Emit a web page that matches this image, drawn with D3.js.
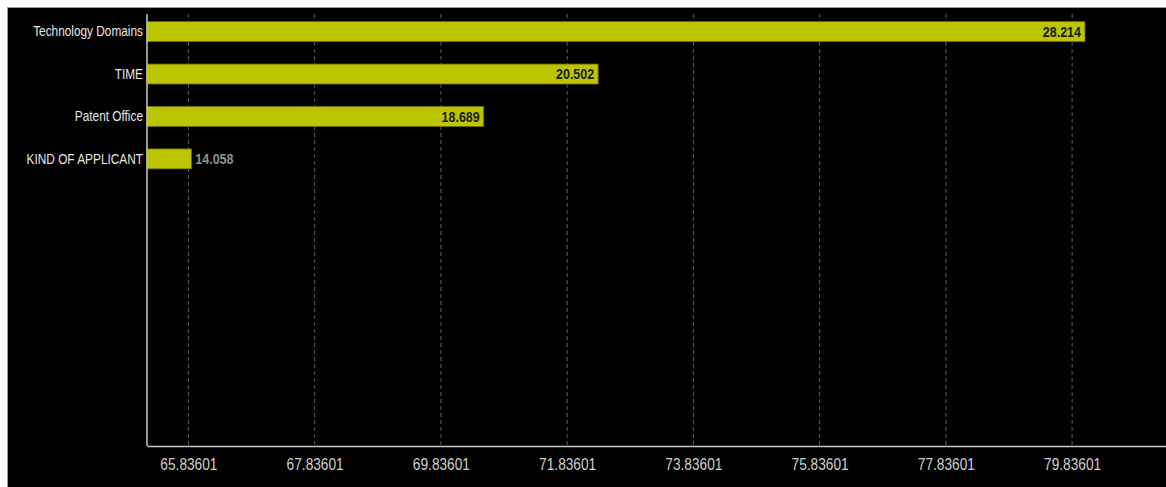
<!DOCTYPE html>
<html>
<head>
<meta charset="utf-8">
<script src="https://cdn.jsdelivr.net/npm/d3@7"></script>
<style>
	html, body { margin: 0; padding: 0; background: #fff; overflow: hidden; }
	#graphic { width: 1166px; height: 487px; }
	text { font-family: "Liberation Sans", Arial, sans-serif; }
</style>
</head>
<body>
<div id="graphic"></div>
<script>
// chart data
const categories = ['Technology Domains', 'TIME', 'Patent Office', 'KIND OF APPLICANT'];
const values = [28.214, 20.502, 18.689, 14.058];
const tickLabels = [65.83601, 67.83601, 69.83601, 71.83601, 73.83601, 75.83601, 77.83601, 79.83601];
// where the first tick label sits on the value scale
const tickBase = 14.011;

let graphic = d3.select('#graphic');
const W = 1166, H = 487;
const margin = { top: 14, left: 147, bottom: 41 };
const chartWidth = 1027;
const height = H - margin.top - margin.bottom;

const barColour = '#bdc400';
// no narrow face is installed, so squeeze the glyphs sideways
const squeeze = 0.79;

let svg = graphic.append('svg')
	.attr('width', W)
	.attr('height', H);

// dark panel
svg.append('rect')
	.attr('x', 7.5)
	.attr('y', 7.5)
	.attr('width', W)
	.attr('height', H)
	.attr('fill', '#000')
	.attr('stroke', '#9a9a9a')
	.attr('stroke-width', 1);

let g = svg.append('g')
	.attr('transform', `translate(${margin.left},${margin.top})`);

//scales
const x = d3.scaleLinear()
	.domain([d3.min(values) * 0.95, d3.max(values) * 1.05])
	.range([0, chartWidth]);

// the axis shows shifted labels against the same pixel range
const xLabel = d3.scaleLinear()
	.domain(x.domain().map(d => d - tickBase + tickLabels[0]))
	.range(x.range());

const y = d3.scaleBand()
	.domain(categories)
	.range([0, 162.5])
	.paddingInner(0.53)
	.paddingOuter(0.18);

//gridlines
g.append('g')
	.selectAll('line')
	.data(tickLabels)
	.join('line')
	.attr('x1', d => xLabel(d))
	.attr('x2', d => xLabel(d))
	.attr('y1', 0)
	.attr('y2', height)
	.attr('stroke', '#5a5a5a')
	.attr('stroke-width', 1)
	.attr('stroke-dasharray', '4,3');

//bars
g.append('g')
	.selectAll('rect')
	.data(values)
	.join('rect')
	.attr('x', 0)
	.attr('y', (d, i) => y(categories[i]))
	.attr('width', d => x(d))
	.attr('height', y.bandwidth())
	.attr('fill', barColour)
	.attr('stroke', '#6f7300')
	.attr('stroke-width', 0.8);

//value labels: inside the bar when there is room
const inside = d => x(d) > 60;
g.append('g')
	.selectAll('text')
	.data(values)
	.join('text')
	.attr('transform', (d, i) =>
		`translate(${inside(d) ? x(d) - 4 : x(d) + 4},${y(categories[i]) + y.bandwidth() / 2}) scale(0.89,1)`)
	.attr('dy', '0.36em')
	.attr('text-anchor', d => inside(d) ? 'end' : 'start')
	.attr('font-size', '14px')
	.attr('font-weight', 'bold')
	.attr('fill', d => inside(d) ? '#1b1b10' : '#8f8f8f')
	.text(d => d3.format('.3f')(d));

//x axis
let xAxis = d3.axisBottom(xLabel)
	.tickValues(tickLabels)
	.tickSize(0)
	.tickPadding(12)
	.tickFormat(d3.format('.5f'));

let xg = g.append('g')
	.attr('transform', `translate(0,${height})`)
	.call(xAxis);
xg.select('.domain').attr('stroke', '#c8c8c8').attr('stroke-width', 1.5);
xg.selectAll('text')
	.attr('fill', '#cfcfcf')
	.attr('font-size', '16.5px')
	.attr('transform', 'scale(0.83,1)');

//y axis
let yAxis = d3.axisLeft(y)
	.tickSize(0)
	.tickPadding(4);

let yg = g.append('g').call(yAxis);
yg.select('.domain')
	.attr('d', `M0,0V${height}`)
	.attr('stroke', '#c8c8c8')
	.attr('stroke-width', 1.5);
yg.selectAll('text')
	.attr('fill', '#e6e6e6')
	.attr('font-size', '15px')
	.attr('x', -4 / squeeze)
	.attr('transform', `scale(${squeeze},1)`);
</script>
</body>
</html>
